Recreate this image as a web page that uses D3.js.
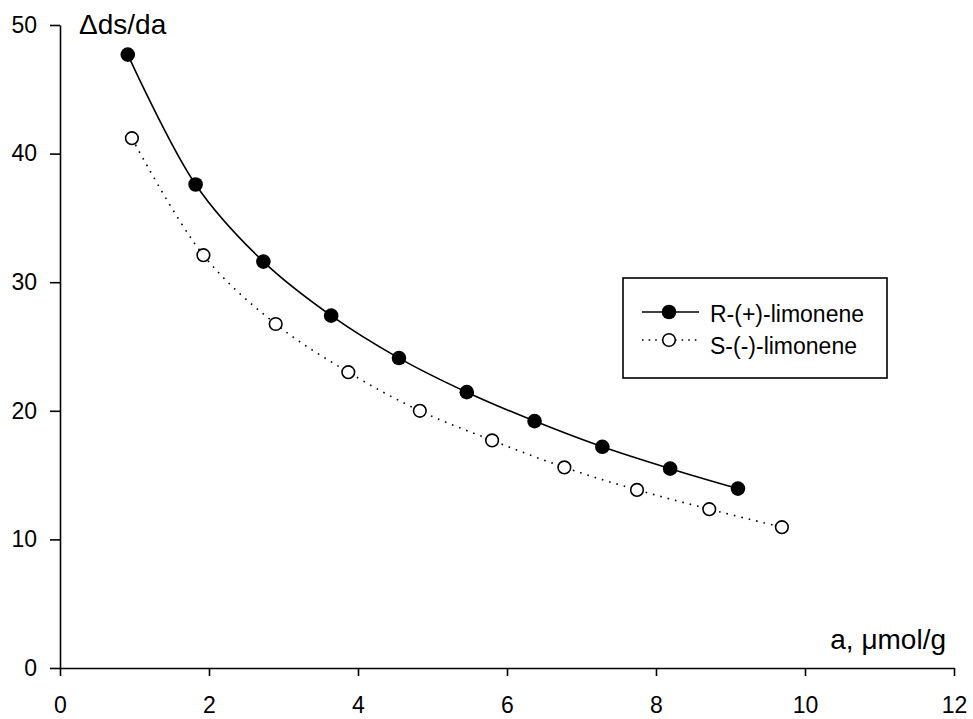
<!DOCTYPE html>
<html><head><meta charset="utf-8">
<script src="https://cdn.jsdelivr.net/npm/d3@7"></script>
<style>body{margin:0;background:#fff}svg{display:block}text{font-family:"Liberation Sans",Arial,sans-serif;fill:#000}</style>
</head><body><svg id="c" width="973" height="719"></svg>
<script>
const rX = [0.91,1.82,2.73,3.64,4.55,5.46,6.37,7.28,8.19,9.10];
const rY = [47.7,37.6,31.6,27.4,24.1,21.45,19.2,17.2,15.5,13.95];
const sX = [0.965,1.925,2.895,3.87,4.83,5.80,6.77,7.745,8.715,9.69];
const sY = [41.2,32.1,26.75,23.0,20.0,17.7,15.6,13.85,12.35,10.95];
const xTicks = [0,2,4,6,8,10,12];
const yTicks = [0,10,20,30,40,50];
const seriesNames = ["R-(+)-limonene","S-(-)-limonene"];

const svg = d3.select("#c");
const x = d3.scaleLinear().domain([0,12]).range([60,954]);
const y = d3.scaleLinear().domain([0,50]).range([668,25]);

const xa = svg.append("g").attr("transform","translate(0,668)")
  .call(d3.axisBottom(x).tickValues(xTicks).tickSize(8).tickPadding(21).tickSizeOuter(0));
const ya = svg.append("g").attr("transform","translate(60,0)")
  .call(d3.axisLeft(y).tickValues(yTicks).tickSize(10).tickPadding(13).tickSizeOuter(0));
[xa,ya].forEach(a=>{
  a.selectAll("path,line").attr("stroke","#000").attr("stroke-width",1.6);
  a.selectAll("text").attr("font-size",23).attr("font-family","Liberation Sans, Arial, sans-serif");
});

const line = d3.line().x(d=>x(d[0])).y(d=>y(d[1])).curve(d3.curveCatmullRom.alpha(0.5));
const rD = rX.map((v,i)=>[v,rY[i]]);
const sD = sX.map((v,i)=>[v,sY[i]]);

svg.append("path").attr("d",line(sD)).attr("fill","none").attr("stroke","#000")
  .attr("stroke-width",1.6).attr("stroke-dasharray","1.6 6");
svg.append("path").attr("d",line(rD)).attr("fill","none").attr("stroke","#000").attr("stroke-width",1.6);

svg.selectAll("circle.r").data(rD).enter().append("circle")
  .attr("cx",d=>x(d[0])).attr("cy",d=>y(d[1])).attr("r",7.3).attr("fill","#000");
svg.selectAll("circle.s").data(sD).enter().append("circle")
  .attr("cx",d=>x(d[0])).attr("cy",d=>y(d[1])).attr("r",6.3)
  .attr("fill","#fff").attr("stroke","#000").attr("stroke-width",1.6);

// axis titles
svg.append("text").attr("x",79).attr("y",34).attr("font-size",28).text("\u0394ds/da");
svg.append("text").attr("x",946).attr("y",649).attr("font-size",28).attr("text-anchor","end").text("a, \u03bcmol/g");

// legend
const lg = svg.append("g");
lg.append("rect").attr("x",623).attr("y",278).attr("width",264).attr("height",100)
  .attr("fill","#fff").attr("stroke","#000").attr("stroke-width",1.6);
lg.append("line").attr("x1",642).attr("x2",699).attr("y1",312).attr("y2",312).attr("stroke","#000").attr("stroke-width",1.6);
lg.append("circle").attr("cx",669).attr("cy",312).attr("r",7.3).attr("fill","#000");
lg.append("line").attr("x1",642).attr("x2",699).attr("y1",340).attr("y2",340).attr("stroke","#000").attr("stroke-width",1.6).attr("stroke-dasharray","1.6 5");
lg.append("circle").attr("cx",669).attr("cy",340).attr("r",6.3).attr("fill","#fff").attr("stroke","#000").attr("stroke-width",1.6);
lg.append("text").attr("x",710).attr("y",322).attr("font-size",23).text(seriesNames[0]);
lg.append("text").attr("x",710).attr("y",354).attr("font-size",23).text(seriesNames[1]);
</script></body></html>
